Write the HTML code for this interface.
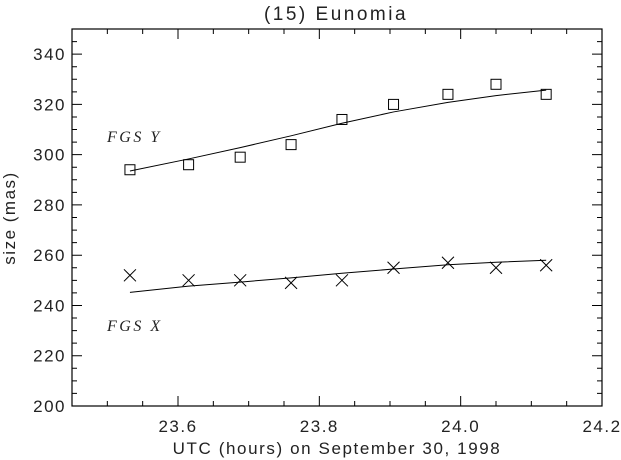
<!DOCTYPE html>
<html><head><meta charset="utf-8"><style>
html,body{margin:0;padding:0;background:#fff;}
svg{display:block;}
text{font-family:"Liberation Sans",sans-serif;fill:#222;}
</style></head><body>
<svg id="chart" width="621" height="460">
<text x="336" y="20" font-size="19" letter-spacing="2.5" text-anchor="middle">(15) Eunomia</text>
<g id="frame"></g>
<g id="series"></g>
<text x="107" y="142" font-size="16" letter-spacing="2.5" font-style="italic" style="font-family:'Liberation Serif',serif">FGS  Y</text>
<text x="107" y="331" font-size="16" letter-spacing="2.5" font-style="italic" style="font-family:'Liberation Serif',serif">FGS  X</text>
<text x="337" y="454" font-size="17" letter-spacing="1.6" text-anchor="middle">UTC (hours) on September 30, 1998</text>
<text transform="translate(15,218) rotate(-90)" font-size="17" letter-spacing="1.5" text-anchor="middle">size (mas)</text>
</svg>
<script>
const times=[23.532,23.615,23.688,23.760,23.832,23.905,23.982,24.050,24.121];
const fgsY=[294,296,299,304,314,320,324,328,324];
const fgsX=[252,250,250,249,250,255,257,255,256];
const fitY=[293.5,298.3,302.8,307.5,312.5,317,320.8,323.5,325.7];
const fitX=[245.2,247.7,249.3,251,252.8,254.5,256.2,257.2,258.0];
const xTicks=["23.6","23.8","24.0","24.2"];
const yTicks=["200","220","240","260","280","300","320","340"];
const L=72,R=602,T=29,B=406,X0=23.45,X1=24.2,Y0=200,Y1=350;
const sx=v=>L+(v-X0)/(X1-X0)*(R-L);
const sy=v=>B-(v-Y0)/(Y1-Y0)*(B-T);
const NS="http://www.w3.org/2000/svg";
function mk(tag,attrs,parent){const e=document.createElementNS(NS,tag);for(const k in attrs)e.setAttribute(k,attrs[k]);parent.appendChild(e);return e;}
const fr=document.getElementById('frame');
const box=mk('rect',{x:L,y:T,width:R-L,height:B-T,fill:'none',stroke:'#000','stroke-width':1.2},fr);


let p='';
for(let v=23.45;v<=24.2001;v+=0.05){const x=sx(v);const major=Math.abs(v*5-Math.round(v*5))<1e-6;const len=major?10:5;p+=`M${x},${B}v${-len}M${x},${T}v${len}`;}
for(let v=200;v<=350;v+=5){const y=sy(v);const len=(v%20===0)?10:5;p+=`M${L},${y}h${len}M${R},${y}h${-len}`;}
const tk=mk('path',{d:p,stroke:'#000','stroke-width':1,fill:'none'},fr);


xTicks.forEach(t=>{const e=mk('text',{x:sx(parseFloat(t)),y:432,'font-size':17,'letter-spacing':1.5,'text-anchor':'middle'},fr);e.textContent=t;

});
yTicks.forEach(t=>{const e=mk('text',{x:L-6,y:sy(parseFloat(t))+6,'font-size':17,'letter-spacing':1.5,'text-anchor':'end'},fr);e.textContent=t;

});
const sr=document.getElementById('series');
const lineY=mk('polyline',{points:times.map((t,i)=>sx(t)+','+sy(fitY[i])).join(' '),fill:'none',stroke:'#000','stroke-width':1},sr);


const lineX=mk('polyline',{points:times.map((t,i)=>sx(t)+','+sy(fitX[i])).join(' '),fill:'none',stroke:'#000','stroke-width':1},sr);


times.forEach((t,i)=>{
 const x=sx(t),y=sy(fgsY[i]);
 const s=mk('rect',{x:x-5,y:y-5,width:10,height:10,fill:'none',stroke:'#000','stroke-width':1},sr);
 
 
 const y2=sy(fgsX[i]);
 const c=mk('path',{d:`M${x-6},${y2-6}L${x+6},${y2+6}M${x-6},${y2+6}L${x+6},${y2-6}`,stroke:'#000','stroke-width':1,fill:'none'},sr);
 
 
});
</script>
</body></html>
